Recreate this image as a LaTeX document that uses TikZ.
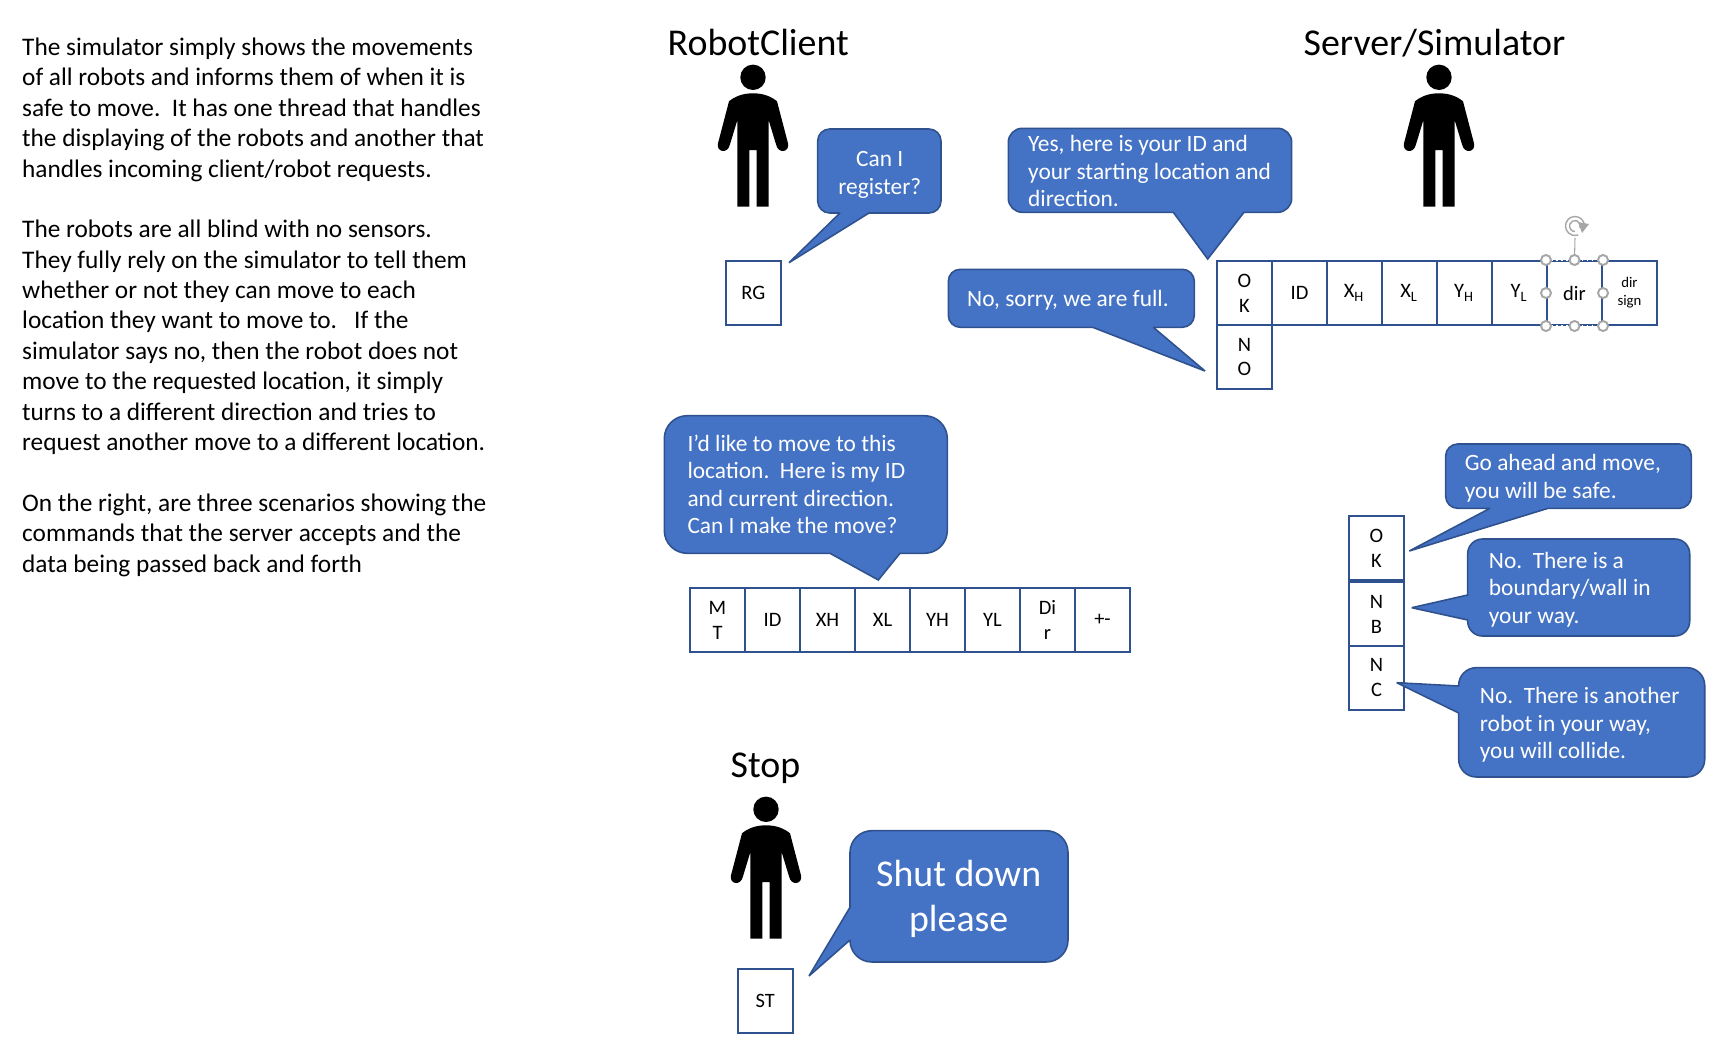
\documentclass[tikz,border=0pt]{standalone}
\usepackage{fontspec}
\setmainfont{Carlito}
\definecolor{bubbleblue}{HTML}{4472C4}
\definecolor{edgeblue}{HTML}{2F528F}
\definecolor{handlegray}{HTML}{A6A6A6}

\begin{document}
\begin{tikzpicture}[
    x=0.01cm, y=-0.01cm,
    % Styles
    title_text/.style={anchor=base west, inner sep=0pt, font=\fontsize{10.78}{12}\selectfont},
    body_text/.style={anchor=base west, inner sep=0pt, align=left, font=\fontsize{7.2}{8.64}\selectfont},
    speech_box/.style={fill=bubbleblue, draw=edgeblue, line width=0.45pt, miter limit=2},
    speech_text/.style={anchor=base west, inner sep=0pt, align=left, text=white, font=\fontsize{6.65}{7.82}\selectfont},
    cell_box/.style={draw=edgeblue, fill=white, line width=0.57pt, minimum width=0.55cm, minimum height=0.635cm,
        inner sep=0pt, align=center, font=\fontsize{5.83}{7.1}\selectfont},
    handle_dot/.style={circle, draw=handlegray, fill=white, line width=0.55pt, minimum size=0.1cm, inner sep=0pt},
    person_icon/.pic={
        \fill (0,0) circle (12.7);
        \fill (0,16) .. controls (-10,16) and (-18,19) .. (-24,24) -- (-35,66)
            .. controls (-37,75) and (-25,77) .. (-23,67) -- (-15.7,43) -- (-15.7,129.3)
            -- (-3.7,129.3) -- (-3.7,72.7) -- (3.7,72.7) -- (3.7,129.3) -- (15.7,129.3) -- (15.7,43) -- (23,67)
            .. controls (25,77) and (37,75) .. (35,66) -- (24,24) .. controls (18,19) and (10,16) .. (0,16) -- cycle;
    }
]
    \useasboundingbox (0,0) rectangle (1723,1042);

    % ==========================================
    % 1. LEFT HAND DESCRIPTION
    % ==========================================
    \node[body_text] (description) at (21.5,572) {The simulator simply shows the movements\\
        of all robots and informs them of when it is\\
        safe to move.\ \ It has one thread that handles\\
        the displaying of the robots and another that\\
        handles incoming client/robot requests.\\
        ~\\
        The robots are all blind with no sensors.\\
        They fully rely on the simulator to tell them\\
        whether or not they can move to each\\
        location they want to move to.\ \ \ If the\\
        simulator says no, then the robot does not\\
        move to the requested location, it simply\\
        turns to a different direction and tries to\\
        request another move to a different location.\\
        ~\\
        On the right, are three scenarios showing the\\
        commands that the server accepts and the\\
        data being passed back and forth};

    % ==========================================
    % 2. TITLES AND PEOPLE
    % ==========================================
    \node[title_text] (client_title) at (667,55) {RobotClient};
    \node[title_text] (server_title) at (1303,55) {Server/Simulator};
    \node[title_text] (stop_title) at (730,777.7) {Stop};

    \pic at (753,77.3) {person_icon};
    \pic at (1439,77.3) {person_icon};
    \pic at (766,809.3) {person_icon};

    % ==========================================
    % 3. REGISTER SCENARIO
    % ==========================================
    \node[cell_box, minimum height=0.64cm] (rg_cell) at (753.3,293) {RG};

    \draw[speech_box] (789,262.7) -- (869,213) [rounded corners=3.4pt] -- (941,213) -- (941,129)
        -- (817.7,129) -- (817.7,213) [sharp corners] -- (840,213) -- cycle;
    \node[speech_text, align=center, anchor=base] (register_text) at (879.8,194) {Can I\\register?};

    % Server answers
    \draw[speech_box] (1207.7,259) -- (1244,212.3) [rounded corners=4pt] -- (1291.7,212.3) -- (1291.7,128.3)
        -- (1008.3,128.3) -- (1008.3,212.3) [sharp corners] -- (1173.3,212.3) -- cycle;
    \node[speech_text] (yes_text) at (1027.5,206.5) {Yes, here is your ID and\\your starting location and\\direction.};

    \draw[speech_box] (1205,371) -- (1153.3,327.3) [rounded corners=3.4pt] -- (1194.3,327.3) -- (1194.3,269.3)
        -- (948.3,269.3) -- (948.3,327.3) [sharp corners] -- (1092.7,327.3) -- cycle;
    \node[speech_text] (full_text) at (966.5,306.2) {No, sorry, we are full.};

    % Reply cells
    \foreach \name/\txt [count=\i from 0] in {ok/O\\K, id/ID, xh/X\textsubscript{H}, xl/X\textsubscript{L},
            yh/Y\textsubscript{H}, yl/Y\textsubscript{L}, dir/dir} {
        \node[cell_box, minimum height=0.64cm] (reply_\name) at ({1244.5+55*\i},293) {\txt};
    }
    \node[cell_box, minimum height=0.64cm, font=\fontsize{4.2}{5.1}\selectfont] (reply_sign) at (1629.5,293) {dir\\sign};
    \node[cell_box, minimum height=0.64cm] (reply_no) at (1244.5,357) {N\\O};

    % Selection handles around the dir cell
    \draw[white, line width=0.45pt, densely dotted] (reply_dir.north west) -- (reply_dir.north east)
        (reply_dir.south west) -- (reply_dir.south east);
    \coordinate (turn_handle) at (1575,226);
    \draw[handlegray, line width=0.3pt] (reply_dir.north) -- (1575,238);
    \foreach \a in {north west, north, north east, west, east, south west, south, south east} {
        \node[handle_dot] (handle_\a) at (reply_dir.\a) {};
    }
    \draw[handlegray, line width=0.4pt] (turn_handle) ++(20:9.5) arc (20:-290:9.5);
    \draw[handlegray, line width=0.4pt] (turn_handle) ++(20:5.5) arc (20:-270:5.5);
    \fill[handlegray] (1578,222) -- (1589,224) -- (1582,233) -- cycle;

    % ==========================================
    % 4. MOVE SCENARIO
    % ==========================================
    \draw[speech_box] (878.3,580) -- (900,553.3) [rounded corners=6.5pt] -- (947.3,553.3) -- (947.3,415.7)
        -- (664.3,415.7) -- (664.3,553.3) [sharp corners] -- (830,553.3) -- cycle;
    \node[speech_text] (move_text) at (686.8,533.6) {I’d like to move to this\\location.\ \ Here is my ID\\and current direction.\\Can I make the move?};

    \foreach \name/\txt [count=\i from 0] in {mt/M\\T, id/ID, xh/XH, xl/XL, yh/YH, yl/YL, dir/Di\\r, sign/+-} {
        \node[cell_box] (move_\name) at ({717.5+55*\i},620) {\txt};
    }

    % Server answers
    \node[cell_box, minimum height=0.637cm] (answer_ok) at (1376.5,548) {O\\K};
    \node[cell_box, minimum height=0.634cm] (answer_nb) at (1376.5,614) {N\\B};
    \node[cell_box, minimum height=0.643cm] (answer_nc) at (1376.5,677.8) {N\\C};

    \draw[speech_box] (1409.3,551) -- (1548,508.3) [rounded corners=3.4pt] -- (1691.3,508.3) -- (1691.3,444)
        -- (1445.7,444) -- (1445.7,508.3) [sharp corners] -- (1490,508.3) -- cycle;
    \node[speech_text] (safe_text) at (1464.2,498.2) {Go ahead and move,\\you will be safe.};

    \draw[speech_box] (1411.7,607.7) -- (1467.7,620) [rounded corners=4.2pt] -- (1467.7,636) -- (1689.7,636) -- (1689.7,539)
        -- (1467.7,539) [sharp corners] -- (1467.7,595) -- cycle;
    \node[speech_text] (wall_text) at (1488.2,623.2) {No.\ \ There is a\\boundary/wall in\\your way.};

    \draw[speech_box] (1396.7,682.7) -- (1458.7,713) [rounded corners=5pt] -- (1458.7,777) -- (1704.7,777) -- (1704.7,667.7)
        -- (1458.7,667.7) [sharp corners] -- (1458.7,686) -- cycle;
    \node[speech_text] (collide_text) at (1479.2,758.8) {No.\ \ There is another\\robot in your way,\\you will collide.};

    % ==========================================
    % 5. STOP SCENARIO
    % ==========================================
    \node[cell_box, minimum height=0.637cm, font=\fontsize{5.8}{6}\selectfont] (st_cell) at (765.3,1000.8) {ST};

    \draw[speech_box] (809,976) -- (850,940) [rounded corners=6.2pt] -- (850,962) -- (1068,962) -- (1068,830.7)
        -- (850,830.7) [sharp corners] -- (850,907.3) -- cycle;
    \node[speech_text, align=center, anchor=base, font=\fontsize{10.76}{12.66}\selectfont] (shutdown_text) at (958.7,931) {Shut down\\please};

\end{tikzpicture}
\end{document}
